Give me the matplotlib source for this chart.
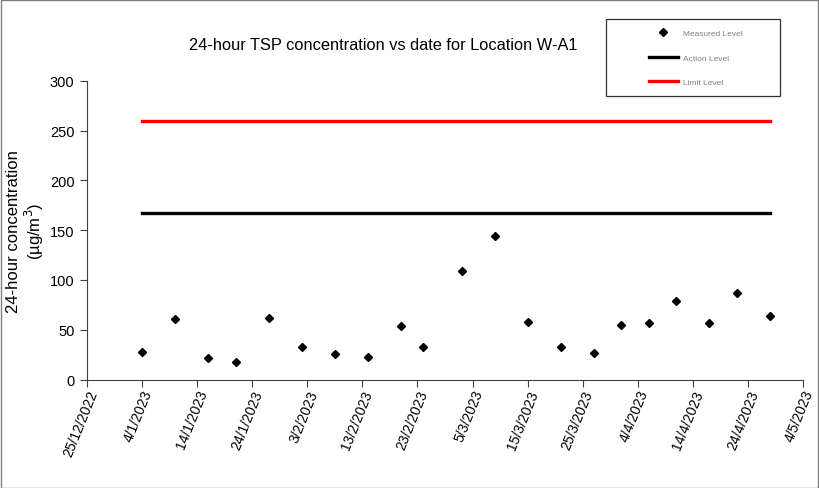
import datetime as dt
import matplotlib
matplotlib.use('agg')
from matplotlib import pyplot as plt
from matplotlib.patches import Rectangle

plt.rcParams['font.family'] = ['Liberation Sans', 'DejaVu Sans']

# measured 24-hour TSP (ug/m3)
dates = ['4/1/2023', '10/1/2023', '16/1/2023', '21/1/2023', '27/1/2023',
         '2/2/2023', '8/2/2023', '14/2/2023', '20/2/2023', '24/2/2023',
         '3/3/2023', '9/3/2023', '15/3/2023', '21/3/2023', '27/3/2023',
         '1/4/2023', '6/4/2023', '11/4/2023', '17/4/2023', '22/4/2023',
         '28/4/2023']
levels = [28, 61, 22, 18, 62, 33, 26, 23, 54, 33,
          109, 144, 58, 33, 27, 55, 57, 79, 57, 87, 64]
action_level = 167
limit_level = 260

x = [dt.datetime.strptime(d, '%d/%m/%Y') for d in dates]

fig = plt.figure(figsize=(8.19, 4.89), dpi=100)
ax = fig.add_axes([87/819, 1 - 380.5/489, 716/819, 298.5/489])

ax.plot([x[0], x[-1]], [limit_level] * 2, color='#ff0000', lw=2.4, label='Limit Level')
ax.plot([x[0], x[-1]], [action_level] * 2, color='black', lw=2.4, label='Action Level')
ax.plot(x, levels, 'D', color='black', ms=4.5, ls='none', label='Measured Level')

ax.set_ylim(0, 300)
ax.set_yticks(range(0, 301, 50))
ax.set_xlim(dt.datetime(2022, 12, 25), dt.datetime(2023, 5, 4))
ticks = [dt.datetime(2022, 12, 25) + dt.timedelta(days=10 * i) for i in range(14)]
ax.set_xticks(ticks)
ax.set_xticklabels(['%d/%d/%d' % (t.day, t.month, t.year) for t in ticks],
                   rotation=68, ha='right', rotation_mode='anchor')

for s in ['top', 'right']:
    ax.spines[s].set_visible(False)
for s in ['left', 'bottom']:
    ax.spines[s].set_color('#404040')
ax.tick_params(direction='out', length=5, color='#404040')
ax.tick_params(axis='y', labelsize=10.5, pad=4)
ax.tick_params(axis='x', labelsize=10, pad=1)

ax.set_ylabel('24-hour concentration\n(µg/m$^3$)', fontsize=12, labelpad=3,
              linespacing=1.1)

fig.text(383/819, 1 - 45/489, '24-hour TSP concentration vs date for Location W-A1',
         ha='center', va='center', fontsize=11.8)

# legend box
fig.patches.append(Rectangle((606/819, 1 - 97/489), 174/819, 77/489,
                             transform=fig.transFigure, fill=False,
                             edgecolor='#303030', lw=0.9))
h, l = ax.get_legend_handles_labels()
fig.legend(h[::-1], l[::-1], loc='upper left',
           bbox_to_anchor=(641/819, 1 - 23/489),
           fontsize=6, labelcolor='#808080', frameon=False, markerscale=0.8,
           labelspacing=2.0, handlelength=3.5, handletextpad=0.6)

fig.patches.append(Rectangle((0.001, 0.001), 0.998, 0.997, transform=fig.transFigure,
                             fill=False, edgecolor='#808080', lw=1))

fig.savefig('out.png', dpi=100)
